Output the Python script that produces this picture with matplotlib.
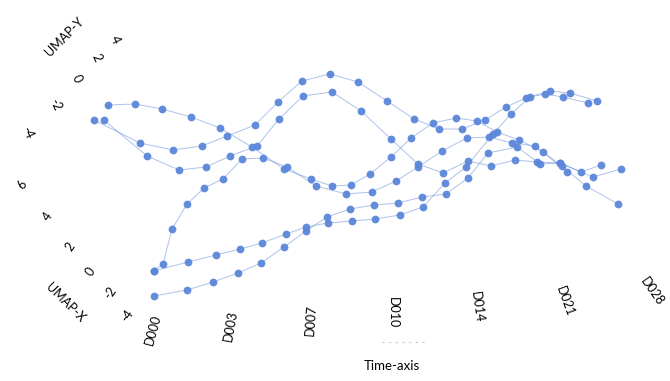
import matplotlib
matplotlib.use("Agg")
import matplotlib.pyplot as plt

plt.rcParams['font.family'] = ['Lato', 'DejaVu Sans']

# Projected (screen-space) trajectories, one point per time step
traj_a_x = [94, 140, 173, 202, 227, 255, 278, 302, 330, 358, 387, 414, 439, 462, 485, 506, 526, 550, 570, 597]
traj_a_y = [120, 143, 150, 146, 136, 125, 102, 81, 74, 82, 101, 119, 129, 129, 120, 107, 98, 91, 93, 101]
traj_b_x = [104, 147, 179, 206, 230, 257, 279, 303, 332, 361, 391, 418, 443, 468, 491, 515, 537, 560, 581, 601]
traj_b_y = [120, 156, 170, 167, 156, 146, 119, 96, 92, 111, 139, 164, 173, 161, 166, 160, 162, 163, 172, 165]
traj_c_x = [108, 135, 162, 191, 220, 252, 284, 311, 332, 351, 370, 391, 411, 433, 456, 477, 497, 519, 543, 567]
traj_c_y = [105, 104, 109, 117, 128, 147, 169, 179, 186, 185, 174, 157, 138, 123, 118, 121, 132, 140, 152, 172]
traj_p_x = [154, 163, 172, 187, 204, 223, 242, 263, 287, 316, 346, 372, 396, 418, 442, 467, 489, 512, 535, 562, 586, 618]
traj_p_y = [271, 264, 229, 204, 188, 179, 159, 158, 167, 186, 194, 192, 181, 167, 151, 138, 137, 143, 146, 166, 186, 204]
traj_q_x = [154, 187, 213, 238, 261, 284, 306, 327, 350, 374, 398, 422, 446, 468, 488, 517, 540, 560, 593, 621]
traj_q_y = [296, 290, 282, 273, 263, 247, 231, 217, 209, 205, 203, 197, 194, 178, 153, 147, 164, 163, 177, 169]
traj_r_x = [154, 188, 216, 240, 262, 286, 306, 328, 352, 375, 400, 423, 445, 466, 493, 511, 530, 545, 563, 588]
traj_r_y = [271, 262, 255, 249, 243, 234, 227, 223, 221, 219, 215, 207, 183, 167, 134, 114, 97, 94, 97, 103]

time_labels = ['D000', 'D003', 'D007', 'D010', 'D014', 'D021', 'D028']
umap_y_ticks = ['-4', '-2', '0', '2', '4']
umap_x_ticks = ['6', '4', '2', '0', '-2', '-4']

fig = plt.figure(figsize=(6.7, 3.81), dpi=100)
ax = fig.add_axes([0, 0, 1, 1])
ax.set_xlim(0, 670)
ax.set_ylim(381, 0)
ax.axis('off')

color = '#5B86D9'
for xs, ys in [(traj_a_x, traj_a_y), (traj_b_x, traj_b_y), (traj_c_x, traj_c_y),
               (traj_p_x, traj_p_y), (traj_q_x, traj_q_y), (traj_r_x, traj_r_y)]:
    ax.plot(xs, ys, '-', color=color, lw=0.7, alpha=0.5, zorder=1)
    ax.plot(xs, ys, 'o', color=color, ms=5.6, mec='none', alpha=0.95, zorder=2)

fs = 9
# time axis tick labels (perspective rotation)
t_pos = [(153, 330), (231, 326), (311, 320), (393, 313), (477, 307), (565, 301), (652, 292)]
t_rot = [75, 80, 86, -90, -82, -70, -55]
for lab, (x, y), r in zip(time_labels, t_pos, t_rot):
    ax.text(x, y, lab, rotation=r, ha='center', va='center', fontsize=fs)
ax.text(392, 366, 'Time-axis', ha='center', va='center', fontsize=fs + 0.5)
# faint remnant of the time axis line
ax.plot([382, 424], [341.5, 341.5], color='#c8c8c8', lw=0.8, ls=(0, (2, 4)), zorder=0)

# UMAP-Y axis
uy_pos = [(27, 133), (55, 105), (77, 79), (97, 58), (115, 40)]
for lab, (x, y) in zip(umap_y_ticks, uy_pos):
    ax.text(x, y, lab, rotation=-65, ha='center', va='center', fontsize=fs)
ax.text(64, 37, 'UMAP-Y', rotation=45, ha='center', va='center', fontsize=fs)

# UMAP-X axis
ux_pos = [(22, 185), (48, 217), (70, 247), (90, 272), (110, 293), (127, 316)]
for lab, (x, y) in zip(umap_x_ticks, ux_pos):
    ax.text(x, y, lab, rotation=55, ha='center', va='center', fontsize=fs)
ax.text(65, 303, 'UMAP-X', rotation=-45, ha='center', va='center', fontsize=fs)

fig.savefig('out.png', dpi=100)
